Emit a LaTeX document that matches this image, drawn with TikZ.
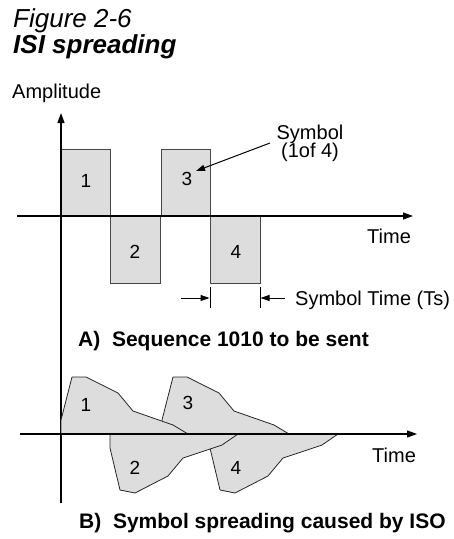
\documentclass[tikz,border=0pt]{standalone}
\usepackage{fontspec}
\setmainfont{Liberation Sans}
\usetikzlibrary{arrows.meta}
\definecolor{symfill}{RGB}{221,221,221}
\definecolor{symedge}{RGB}{70,70,70}
\begin{document}
\begin{tikzpicture}[x=1pt,y=-1pt,
  txt/.style={font=\fontsize{20}{22}\selectfont, inner sep=0pt, anchor=base west},
  digit/.style={font=\fontsize{19}{21}\selectfont, inner sep=0pt, anchor=base},
  caption/.style={font=\fontsize{21}{24}\selectfont\bfseries, inner sep=0pt, anchor=base west},
  axis/.style={line width=1.2pt, -{Triangle[length=10pt,width=7pt]}},
  pointer/.style={line width=1pt, -{Triangle[length=9pt,width=6pt]}},
  tick/.style={line width=1pt},
  pulse/.style={fill=symfill, draw=symedge, line width=0.8pt},
  spread/.style={fill=symfill, draw=black!85, line width=0.8pt, line join=round},
]
\useasboundingbox (0,0) rectangle (454,539);

% headings
\node[font=\fontsize{26}{29}\selectfont\itshape, inner sep=0pt, anchor=base west] (fig) at (13,27) {Figure 2-6};
\node[font=\fontsize{26}{29}\selectfont\bfseries\itshape, inner sep=0pt, anchor=base west] (ttl) at (13,53) {ISI spreading};
\node[txt] (amp) at (12,98) {Amplitude};

% ---- A) ideal rectangular symbols ----
\draw[pulse] (61,149) rectangle (110,216);
\draw[pulse] (110,216) rectangle (160,283);
\draw[pulse] (161,149) rectangle (210,216);
\draw[pulse] (210,216) rectangle (260,283);

\node[digit] (a1) at (86,187) {1};
\node[digit] (a2) at (135,258) {2};
\node[digit] (a3) at (187,185) {3};
\node[digit] (a4) at (236,258) {4};

% axes
\coordinate (yb) at (61,503);
\coordinate (yt) at (61,113);
\coordinate (x1l) at (17,216);
\coordinate (x1r) at (413,216);
\draw[axis] (yb) -- (yt);
\draw[axis] (x1l) -- (x1r);
\node[txt] (time1) at (367,243.5) {Time};

% symbol callout
\node[txt, anchor=base] (symA) at (310,139) {Symbol};
\node[txt, anchor=base] (symB) at (310,157.5) {(1of 4)};
\coordinate (symtail) at (270,143);
\coordinate (symhead) at (196,171);
\draw[pointer] (symtail) -- (symhead);

% symbol time marker
\coordinate (tL1) at (210,287);
\coordinate (tL2) at (210,308);
\coordinate (tR1) at (260,287);
\coordinate (tR2) at (260,308);
\coordinate (aL) at (181,298);
\coordinate (aLh) at (209.5,298);
\coordinate (aR) at (285,298);
\coordinate (aRh) at (260.5,298);
\draw[tick] (tL1) -- (tL2);
\draw[tick] (tR1) -- (tR2);
\draw[pointer] (aL) -- (aLh);
\draw[pointer] (aR) -- (aRh);
\node[txt] (ts) at (295,305) {Symbol Time (Ts)};

\node[caption] (capA) at (78,346) {A)\ \ Sequence 1010 to be sent};

% ---- B) spread symbols (later ones first, so earlier ones overlap them) ----
\begin{scope}[shift={(101,0)}]
  \draw[spread] (61,434) -- (61,420) -- (72,377) -- (86,377) -- (118,393) -- (133,411) -- (173,425) -- (188,434) -- cycle;
\end{scope}
\begin{scope}[shift={(100,0)}]
  \draw[spread] (110,434) -- (110,448) -- (120,490) -- (135,493) -- (168,476) -- (183,458) -- (222,445) -- (238,434) -- cycle;
\end{scope}
\draw[spread] (61,434) -- (61,420) -- (72,377) -- (86,377) -- (118,393) -- (133,411) -- (173,425) -- (188,434) -- cycle;
\draw[spread] (110,434) -- (110,448) -- (120,490) -- (135,493) -- (168,476) -- (183,458) -- (222,445) -- (238,434) -- cycle;

\node[digit] (b1) at (86,411) {1};
\node[digit] (b2) at (135,474) {2};
\node[digit] (b3) at (188,409) {3};
\node[digit] (b4) at (236,474) {4};

\coordinate (x2l) at (20,434);
\coordinate (x2r) at (417,434);
\draw[axis] (x2l) -- (x2r);
\draw[line width=1.2pt] (61,434) -- (yb);
\node[txt] (time2) at (372,462) {Time};

\node[caption] (capB) at (79,528) {B)\ \ Symbol spreading caused by ISO};
\end{tikzpicture}
\end{document}
